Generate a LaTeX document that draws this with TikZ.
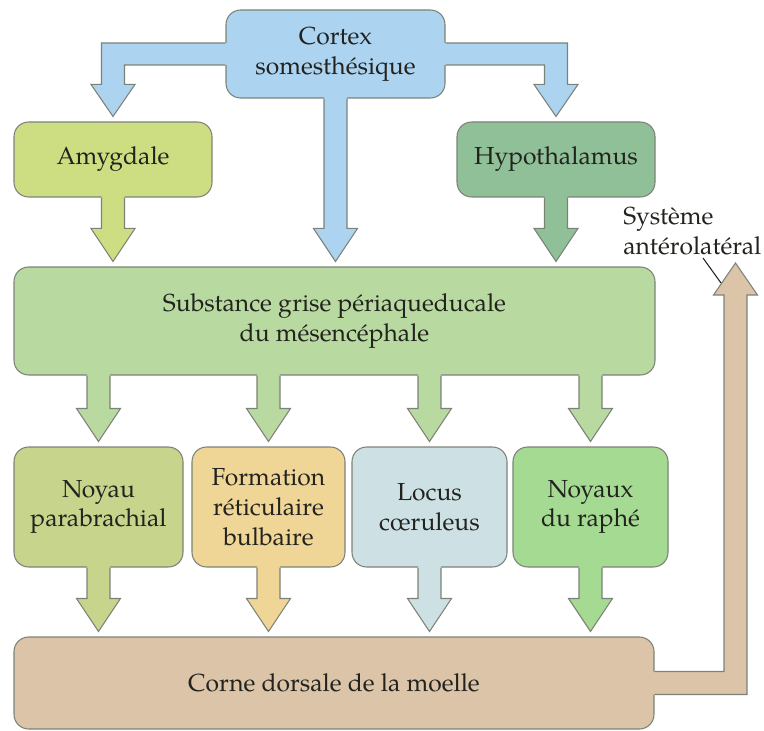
\documentclass[tikz,border=0pt]{standalone}
\usepackage{fontspec}
\setmainfont{TeX Gyre Pagella}
\usetikzlibrary{calc}

% fill colours of the boxes and their outgoing arrows
\definecolor{cCortex}{RGB}{172,211,240}
\definecolor{cAmyg}{RGB}{205,222,130}
\definecolor{cHypo}{RGB}{143,192,152}
\definecolor{cSubst}{RGB}{184,218,160}
\definecolor{cPara}{RGB}{198,212,140}
\definecolor{cForm}{RGB}{240,214,150}
\definecolor{cLocus}{RGB}{205,225,228}
\definecolor{cRaphe}{RGB}{164,218,146}
\definecolor{cCorne}{RGB}{219,196,168}
\definecolor{cEdge}{RGB}{125,130,120}
\definecolor{cText}{RGB}{34,34,30}

\tikzset{
  edge/.style={draw=cEdge, line width=0.8pt, line join=miter},
  box/.style={edge, rounded corners=11pt, inner sep=0pt, align=center,
    text=cText, font=\fontsize{18.5}{22.3}\selectfont},
  lbl/.style={text=cText, font=\fontsize{18.5}{22.3}\selectfont, inner sep=0pt}
}

% rounded box given by its corners (x1,y1) and (x2,y2), in pixel units
\newcommand\boxnode[7]{%
  \node[box, fill=#2, minimum width={(#5-#3)*0.75pt}, minimum height={(#6-#4)*0.75pt}]
    (#1) at ({(#3+#5)/2},{(#4+#6)/2}) {#7};
}

% block arrow pointing down, from a source anchor (#2) towards a target anchor (#3)
\newcommand\blockdown[3]{%
  \coordinate (bdS) at (#2);
  \coordinate (bdT) at ($(#2 |- #3)+(0,-5)$);
  \coordinate (bdB) at ($(bdT)+(0,-33)$);
  \fill[#1] ($(bdS)+(-11.5,-2)$) -- ($(bdB)+(-11.5,0)$) -- ($(bdB)+(-22,0)$)
    -- (bdT) -- ($(bdB)+(22,0)$) -- ($(bdB)+(11.5,0)$) -- ($(bdS)+(11.5,-2)$) -- cycle;
  \draw[edge] ($(bdS)+(-11.5,0)$) -- ($(bdB)+(-11.5,0)$) -- ($(bdB)+(-22,0)$)
    -- (bdT) -- ($(bdB)+(22,0)$) -- ($(bdB)+(11.5,0)$) -- ($(bdS)+(11.5,0)$);
}

% branch from the side of the cortex box, turning down to a target box
% #1 side anchor of the source, #2 north anchor of the target, #3 +1 or -1 (direction)
\newcommand\blockbranch[3]{%
  \coordinate (bbS) at (#1);
  \coordinate (bbC) at (#1 -| #2);
  \coordinate (bbT) at ($(#2)+(0,-5)$);
  \coordinate (bbB) at ($(bbT)+(0,-32)$);
  \fill[cCortex] ($(bbS)+(-2*#3,-11)$) -- ($(bbC)+(11.5*#3,-11)$) -- ($(bbB)+(11.5*#3,0)$)
    -- ($(bbB)+(22*#3,0)$) -- (bbT) -- ($(bbB)+(-22*#3,0)$) -- ($(bbB)+(-11.5*#3,0)$)
    -- ($(bbC)+(-11.5*#3,11)$) -- ($(bbS)+(-2*#3,11)$) -- cycle;
  \draw[edge] ($(bbS)+(0,-11)$) -- ($(bbC)+(11.5*#3,-11)$) -- ($(bbB)+(11.5*#3,0)$)
    -- ($(bbB)+(22*#3,0)$) -- (bbT) -- ($(bbB)+(-22*#3,0)$) -- ($(bbB)+(-11.5*#3,0)$)
    -- ($(bbC)+(-11.5*#3,11)$) -- ($(bbS)+(0,11)$);
}

\begin{document}
\begin{tikzpicture}[x=0.75pt,y=-0.75pt]
\useasboundingbox (0,0) rectangle (764,731);

% boxes
\boxnode{cortex}{cCortex}{226}{10}{445}{98}{Cortex\\somesthésique}
\boxnode{amyg}{cAmyg}{14}{122}{212}{197}{Amygdale}
\boxnode{hypo}{cHypo}{457}{122}{655}{197}{Hypothalamus}
\boxnode{subst}{cSubst}{14}{267}{655}{375}{Substance grise périaqueducale\\du mésencéphale}
\boxnode{para}{cPara}{14}{447}{183}{567}{Noyau\\parabrachial}
\boxnode{form}{cForm}{192}{447}{345}{567}{Formation\\réticulaire\\bulbaire}
\boxnode{locus}{cLocus}{352}{447}{507}{567}{Locus\\cœruleus}
\boxnode{raphe}{cRaphe}{513}{447}{668}{567}{Noyaux\\du raphé}
\boxnode{corne}{cCorne}{14}{637}{654}{729}{Corne dorsale de la moelle}

% cortex projections
\blockbranch{cortex.west}{amyg.north}{-1}
\blockbranch{cortex.east}{hypo.north}{1}
\blockdown{cCortex}{cortex.south}{subst.north}

% into the periaqueductal grey
\blockdown{cAmyg}{amyg.south}{subst.north}
\blockdown{cHypo}{hypo.south}{subst.north}

% periaqueductal grey to the brainstem nuclei
\blockdown{cSubst}{para.north |- subst.south}{para.north}
\blockdown{cSubst}{form.north |- subst.south}{form.north}
\blockdown{cSubst}{locus.north |- subst.south}{locus.north}
\blockdown{cSubst}{raphe.north |- subst.south}{raphe.north}

% brainstem nuclei to the dorsal horn
\blockdown{cPara}{para.south}{corne.north}
\blockdown{cForm}{form.south}{corne.north}
\blockdown{cLocus}{locus.south}{corne.north}
\blockdown{cRaphe}{raphe.south}{corne.north}

% ascending anterolateral pathway
\coordinate (altip) at (735.5,263);
\coordinate (alcorner) at (corne.east -| altip);
\coordinate (albase) at ($(altip)+(0,32)$);
\fill[cCorne] ($(corne.east)+(-2,-11.5)$) -- ($(alcorner)+(-11.5,-11.5)$) -- ($(albase)+(-11.5,0)$)
  -- ($(albase)+(-22,0)$) -- (altip) -- ($(albase)+(22,0)$) -- ($(albase)+(11.5,0)$)
  -- ($(alcorner)+(11.5,11.5)$) -- ($(corne.east)+(-2,11.5)$) -- cycle;
\draw[edge] ($(corne.east)+(0,-11.5)$) -- ($(alcorner)+(-11.5,-11.5)$) -- ($(albase)+(-11.5,0)$)
  -- ($(albase)+(-22,0)$) -- (altip) -- ($(albase)+(22,0)$) -- ($(albase)+(11.5,0)$)
  -- ($(alcorner)+(11.5,11.5)$) -- ($(corne.east)+(0,11.5)$);

% label of the pathway with its leader
\node[lbl, anchor=north west, align=left] (allabel) at (623,207) {Système\\antérolatéral};
\coordinate (leadA) at (703,258);
\coordinate (leadB) at (721,283);
\draw[cText, line width=0.8pt] (leadA) -- (leadB);
\end{tikzpicture}
\end{document}
